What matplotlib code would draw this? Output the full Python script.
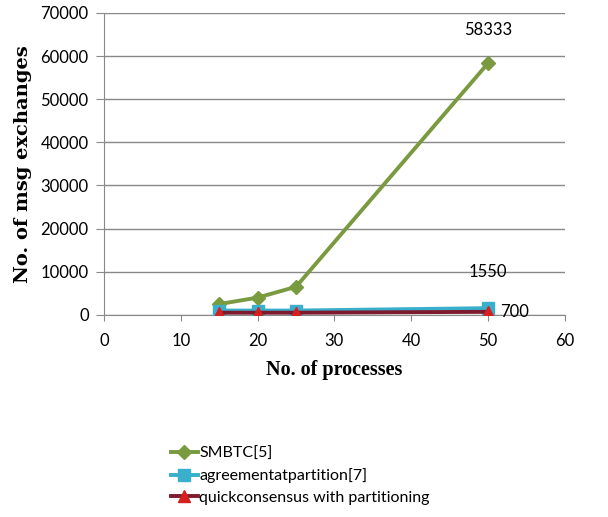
import matplotlib
matplotlib.use("Agg")
import matplotlib.pyplot as plt

processes = [15, 20, 25, 50]
smbtc = [2500, 4000, 6500, 58333]
agreement = [1000, 1000, 1000, 1550]
quick = [500, 500, 500, 700]

x_ticks = [0, 10, 20, 30, 40, 50, 60]
y_ticks = [0, 10000, 20000, 30000, 40000, 50000, 60000, 70000]

tick_font = ["Lato", "DejaVu Sans"]

fig = plt.figure(figsize=(6.08, 5.17), dpi=100)
ax = fig.add_axes([0.171, 0.391, 0.758, 0.584])

ax.plot(processes, smbtc, color="#7A9A40", lw=2.8, marker="D", ms=7,
        mfc="#7A9A40", mec="#7A9A40", label="SMBTC[5]", zorder=3)
ax.plot(processes, agreement, color="#3AAFCB", lw=2.8, marker="s", ms=8,
        mfc="#3AAFCB", mec="#3AAFCB", label="agreementatpartition[7]", zorder=4)
ax.plot(processes, quick, color="#7E1A2E", lw=2.8, marker="^", ms=8,
        mfc="#D42020", mec="#D42020", label="quickconsensus with partitioning", zorder=5)

# value labels at the last point of each series
ax.annotate(f"{smbtc[-1]}", (processes[-1], smbtc[-1]), xytext=(0, 18),
            textcoords="offset points", ha="center", va="bottom",
            fontsize=12, family=tick_font)
ax.annotate(f"{agreement[-1]}", (processes[-1], agreement[-1]), xytext=(0, 20),
            textcoords="offset points", ha="center", va="bottom",
            fontsize=12, family=tick_font)
ax.annotate(f"{quick[-1]}", (processes[-1], quick[-1]), xytext=(9, 0),
            textcoords="offset points", ha="left", va="center",
            fontsize=12, family=tick_font)

ax.set_xlim(0, 60)
ax.set_ylim(0, 70000)
ax.set_xticks(x_ticks)
ax.set_yticks(y_ticks)
ax.set_xticklabels([str(v) for v in x_ticks], family=tick_font, fontsize=12)
ax.set_yticklabels([str(v) for v in y_ticks], family=tick_font, fontsize=12)
ax.tick_params(axis="x", length=4, color="#888888", pad=9)
ax.tick_params(axis="y", length=6, color="#888888", pad=5)
ax.grid(axis="y", color="#888888", lw=1)
ax.set_axisbelow(True)
for side in ("top", "right"):
    ax.spines[side].set_visible(False)
for side in ("left", "bottom"):
    ax.spines[side].set_color("#888888")

ax.set_xlabel("No. of processes", family="Liberation Serif", fontweight="bold",
              fontsize=14.5, labelpad=8)
ax.set_ylabel("No. of msg exchanges", family="DejaVu Serif", fontweight="bold",
              fontsize=14, labelpad=6)

fig.legend(loc="upper left", bbox_to_anchor=(0.27, 0.148), frameon=False,
           prop={"family": tick_font, "size": 11.5}, handlelength=1.7,
           handletextpad=0.1, labelspacing=0.45, borderaxespad=0)

fig.savefig("out.png", dpi=100)
